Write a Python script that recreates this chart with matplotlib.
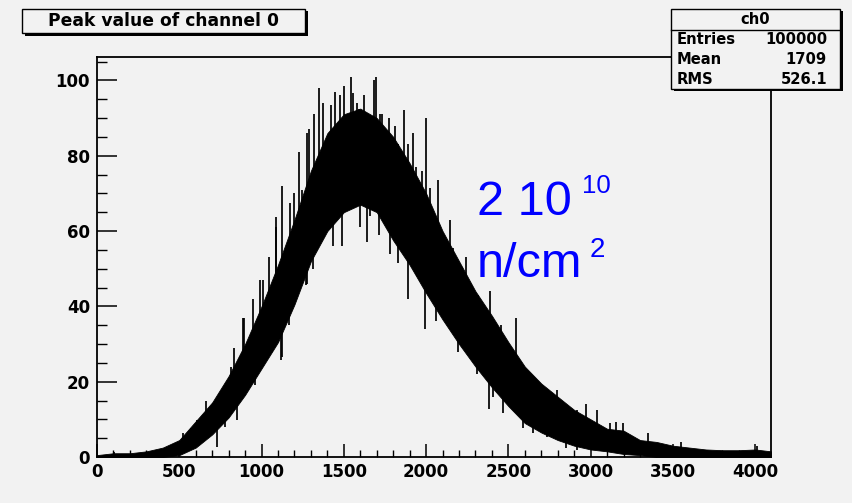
import numpy as np
import matplotlib
matplotlib.use("Agg")
import matplotlib.pyplot as plt
from matplotlib.patches import Rectangle
from matplotlib.lines import Line2D
from matplotlib.ticker import MultipleLocator

# ---- histogram "ch0": noise band of the peak-value spectrum ----
channel = [0, 100, 200, 300, 400, 500, 600, 700, 800, 900, 1000, 1100, 1200,
           1300, 1400, 1500, 1600, 1700, 1800, 1900, 2000, 2100, 2200, 2300,
           2400, 2500, 2600, 2700, 2800, 2900, 3000, 3100, 3200, 3300, 3400,
           3500, 3600, 3700, 3800, 3900, 4000, 4096]
band_high = [0.5, 1, 1, 1.5, 2.5, 4.5, 9.5, 14.5, 21.5, 30, 40, 51, 63, 76,
             86, 91, 92.5, 90, 85, 78, 70, 60, 52, 44, 37.5, 30.5, 24, 19.5,
             16, 12.5, 10, 7.5, 7, 4.5, 4, 3, 2.5, 2, 1.8, 1.8, 2, 1.5]
band_low = [0, 0, 0, 0, 0, 0.5, 2.5, 6, 10.5, 16.5, 23.5, 30.5, 40.5, 52, 60,
            65, 67, 65, 57.5, 51, 43.5, 36.5, 30, 24, 18.5, 13.5, 9, 6.5, 4.5,
            3, 2, 1.5, 0.8, 0.5, 0, 0, 0, 0, 0, 0, 0, 0]

# isolated tall bins sticking out above the band
spike_up_ch = [103, 523, 571, 607, 663, 705, 759, 815, 833, 888, 893, 948, 990,
               1009, 1045, 1087, 1088, 1125, 1172, 1197, 1228, 1245, 1277, 1288,
               1320, 1350, 1373, 1422, 1447, 1478, 1500, 1544, 1556, 1580, 1592,
               1623, 1659, 1686, 1696, 1719, 1733, 1774, 1812, 1829, 1868, 1890,
               1921, 1938, 1974, 2000, 2023, 2072, 2102, 2146, 2163, 2217, 2243,
               2315, 2390, 2406, 2456, 2490, 2548, 2631, 2710, 2795, 2916, 2973,
               3038, 3119, 3155, 3197, 3350, 3550, 4012]
spike_up_val = [1.3, 6.4, 7.7, 9.8, 15, 14.3, 17.8, 24, 29, 37, 37, 42, 47,
                47, 53, 63.7, 61, 72, 67.5, 70, 81, 71, 86, 87, 91, 98, 94,
                93.5, 97, 96, 98.6, 101, 96.7, 94, 92.5, 96, 89.5, 100, 101, 91,
                91, 90, 88, 83, 92, 83, 86, 77, 76, 90, 71.4, 73.5, 59, 63,
                55.5, 50.5, 53, 43, 44, 32, 35, 30, 37, 22, 17.8, 17.8, 12.5,
                14, 12.5, 9, 9.3, 9, 6.4, 4, 3]
# isolated low bins dipping below the band
spike_down_ch = [729, 778, 851, 960, 1063, 1070, 1119, 1125, 1160, 1168, 1215,
                 1270, 1277, 1313, 1360, 1435, 1490, 1537, 1598, 1640, 1659,
                 1715, 1780, 1829, 1890, 1944, 1994, 2005, 2060, 2114, 2195,
                 2248, 2309, 2383, 2406, 2467, 2590, 2649, 2734, 2851, 2916]
spike_down_val = [2.7, 8, 9.8, 19, 28, 29, 25.7, 26.5, 38, 35, 47, 45.6, 46,
                  50, 57, 56, 56, 67, 61, 57, 64, 59, 54, 51.5, 42, 48, 34,
                  43.5, 36, 37, 28, 29, 22, 12.7, 16, 11.6, 7.7, 6.3, 5.3, 2.4,
                  1.9]

title_text = "Peak value of channel 0"
stats_name = "ch0"
stats_rows = [("Entries", "100000"), ("Mean", "1709"), ("RMS", "526.1")]

W, H = 852, 503
BG = "#f2f2f2"
BOLD = "DejaVu Sans"

fig = plt.figure(figsize=(W / 100, H / 100), dpi=100)
fig.patch.set_facecolor(BG)


def fx(px):
    return px / W


def fy(py):
    return 1 - py / H


ax = fig.add_axes([fx(97), fy(457), fx(771) - fx(97), fy(57) - fy(457)])
ax.set_facecolor(BG)
ax.set_xlim(0, 4096)
ax.set_ylim(0, 106.2)

ch = np.asarray(channel, float)
hi = np.asarray(band_high, float)
lo = np.asarray(band_low, float)
ax.fill_between(ch, lo, hi, color="black", lw=0.6, edgecolor="black", zorder=2)


def mid(c):
    return np.interp(np.asarray(c, float), ch, (lo + hi) / 2)


ax.vlines(spike_up_ch, mid(spike_up_ch), spike_up_val,
          color="black", lw=1.25, zorder=3)
ax.vlines(spike_down_ch, spike_down_val, mid(spike_down_ch),
          color="black", lw=1.25, zorder=3)

# axes styling
for s in ax.spines.values():
    s.set_linewidth(1.3)
    s.set_color("black")
ax.xaxis.set_major_locator(MultipleLocator(500))
ax.xaxis.set_minor_locator(MultipleLocator(100))
ax.yaxis.set_major_locator(MultipleLocator(20))
ax.yaxis.set_minor_locator(MultipleLocator(5))
ax.tick_params(axis="x", which="major", direction="in", length=9.4, width=1.1,
               pad=4, labelsize=12)
ax.tick_params(axis="x", which="minor", direction="in", length=5, width=1.0)
ax.tick_params(axis="y", which="major", direction="in", length=14.4, width=1.1,
               pad=5, labelsize=12)
ax.tick_params(axis="y", which="minor", direction="in", length=7.2, width=1.0)
for lab in ax.get_xticklabels() + ax.get_yticklabels():
    lab.set_fontweight("bold")
    lab.set_family(BOLD)

# fluence annotation
blue = "#0000ff"
ax.text(2309, 64.3, "2 10", color=blue, fontsize=35, family="Liberation Sans",
        va="baseline", ha="left")
ax.text(2947, 70.1, "10", color=blue, fontsize=18.5, family="Liberation Sans",
        va="baseline", ha="left")
ax.text(2309, 47.8, "n/cm", color=blue, fontsize=35, family="Liberation Sans",
        va="baseline", ha="left")
ax.text(2995, 53.1, "2", color=blue, fontsize=20, family="Liberation Sans",
        va="baseline", ha="left")


def box(x0, y0, x1, y1, shadow=2.5):
    fig.patches.append(Rectangle((fx(x0 + shadow), fy(y1 + shadow)),
                                 fx(x1 - x0), fy(y0) - fy(y1),
                                 transform=fig.transFigure, facecolor="black",
                                 edgecolor="none", zorder=5))
    fig.patches.append(Rectangle((fx(x0), fy(y1)), fx(x1 - x0), fy(y0) - fy(y1),
                                 transform=fig.transFigure, facecolor=BG,
                                 edgecolor="black", lw=1.0, zorder=6))


# title box
box(22, 9, 305, 33)
fig.text(fx(163), fy(21.5), title_text, ha="center", va="center", fontsize=12.3,
         fontweight="bold", family=BOLD, zorder=7)

# statistics box
box(671, 9, 840, 89)
fig.lines.append(Line2D([fx(671), fx(840)], [fy(30), fy(30)],
                        transform=fig.transFigure, color="black", lw=1.0,
                        zorder=7))
fig.text(fx(755.5), fy(19.5), stats_name, ha="center", va="center",
         fontsize=10.6, fontweight="bold", family=BOLD, zorder=7)
for i, (k, v) in enumerate(stats_rows):
    yy = 39.3 + i * 19.9
    fig.text(fx(677), fy(yy), k, ha="left", va="center", fontsize=10.6,
             fontweight="bold", family=BOLD, zorder=7)
    fig.text(fx(827), fy(yy), v, ha="right", va="center", fontsize=10.6,
             fontweight="bold", family=BOLD, zorder=7)

fig.savefig("out.png", dpi=100, facecolor=BG)
